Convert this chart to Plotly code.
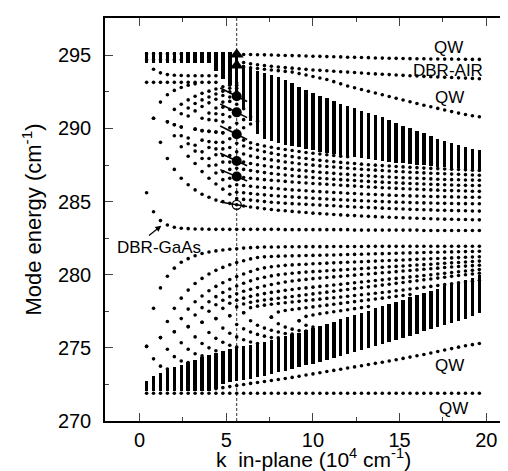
import plotly.graph_objects as go

# k in-plane grid (10^4 cm^-1): one column of computed modes every 0.4
k_cols = [0.4, 0.8, 1.2, 1.6, 2.0, 2.4, 2.8, 3.2, 3.6, 4.0,
          4.4, 4.8, 5.2, 5.6, 6.0, 6.4, 6.8, 7.2, 7.6, 8.0,
          8.4, 8.8, 9.2, 9.6, 10.0, 10.4, 10.8, 11.2, 11.6, 12.0,
          12.4, 12.8, 13.2, 13.6, 14.0, 14.4, 14.8, 15.2, 15.6, 16.0,
          16.4, 16.8, 17.2, 17.6, 18.0, 18.4, 18.8, 19.2, 19.6]

# --- single lines (mode energy, cm^-1) ---
qw_top = [295.1, 295.1, 295.1, 295.1, 295.1, 295.1, 295.1, 295.1, 295.1, 295.1,
          295.1, 295.1, 295.1, 295.06, 295.05, 295.05, 295.04, 295.03, 295.02, 295.0,
          294.99, 294.98, 294.97, 294.95, 294.94, 294.93, 294.91, 294.9, 294.89, 294.87,
          294.86, 294.85, 294.84, 294.82, 294.81, 294.8, 294.79, 294.78, 294.77, 294.76,
          294.76, 294.75, 294.75, 294.74, 294.74, 294.73, 294.73, 294.72, 294.72]
dbr_air = [294.7, 294.7, 294.7, 294.7, 294.7, 294.7, 294.7, 294.7, 294.7, 294.7,
           294.68, 294.65, 294.6, 294.55, 294.5, 294.42, 294.35, 294.3, 294.25, 294.2,
           294.16, 294.12, 294.08, 294.04, 294.0, 293.97, 293.94, 293.91, 293.88, 293.85,
           293.82, 293.79, 293.76, 293.73, 293.7, 293.68, 293.65, 293.63, 293.6, 293.58,
           293.56, 293.54, 293.52, 293.5, 293.48, 293.46, 293.44, 293.42, 293.4]
qw_upper_k0 = 6.0
qw_upper = [294.2, 294.15, 294.1, 294.05, 294.0, 293.95, 293.9, 293.85, 293.75, 293.65,
            293.55, 293.45, 293.35, 293.2, 293.05, 292.9, 292.78, 292.66, 292.54, 292.42,
            292.3, 292.18, 292.06, 291.94, 291.82, 291.7, 291.59, 291.48, 291.37, 291.26,
            291.15, 291.05, 290.95, 290.87, 290.8]
row_293 = [293.15, 293.15, 293.15, 293.15, 293.15, 293.15, 293.15, 293.15, 293.15, 293.15, 293.15]
row_294_k0 = 0.8
row_294 = [294.05, 293.8, 293.68, 293.64, 293.62, 293.6, 293.6, 293.6, 293.6, 293.6]
dbr_gaas = [285.6, 284.3, 283.7, 283.4, 283.25, 283.18, 283.15, 283.13, 283.12, 283.11,
            283.1, 283.1, 283.1, 283.1, 283.1, 283.1, 283.1, 283.1, 283.1, 283.1,
            283.08, 283.08, 283.08, 283.08, 283.08, 283.08, 283.08, 283.08, 283.08, 283.08,
            283.05, 283.05, 283.05, 283.05, 283.05, 283.05, 283.05, 283.05, 283.05, 283.05,
            283.02, 283.02, 283.02, 283.02, 283.02, 283.02, 283.02, 283.02, 283.02]
qw_bottom = [271.9, 271.9, 271.9, 271.9, 271.9, 271.9, 271.9, 271.9, 271.9, 271.9,
             271.9, 271.9, 271.9, 271.9, 271.9, 271.9, 271.9, 271.9, 271.9, 271.9,
             271.9, 271.9, 271.9, 271.9, 271.9, 271.9, 271.9, 271.9, 271.9, 271.9,
             271.9, 271.9, 271.9, 271.9, 271.9, 271.9, 271.9, 271.9, 271.9, 271.9,
             271.9, 271.9, 271.9, 271.9, 271.9, 271.9, 271.9, 271.9, 271.9]
qw_lower_k0 = 4.4
qw_lower = [272.2, 272.28, 272.35, 272.42, 272.5, 272.57, 272.63, 272.7, 272.77, 272.84,
            272.91, 272.98, 273.06, 273.14, 273.22, 273.3, 273.38, 273.46, 273.54, 273.62,
            273.7, 273.78, 273.86, 273.94, 274.02, 274.1, 274.19, 274.28, 274.37, 274.46,
            274.55, 274.65, 274.75, 274.85, 274.95, 275.05, 275.14, 275.22, 275.3]

# --- dense parts of the two bands (edges of the merged dot columns) ---
upper_top = [295.2, 295.2, 295.2, 295.2, 295.2, 295.2, 295.2, 295.2, 295.2, 295.2,
             295.2, 295.2, 295.2, 295.2, 294.35, 294.15, 293.95, 293.8, 293.65, 293.5,
             293.3, 293.1, 292.85, 292.65, 292.45, 292.25, 292.05, 291.9, 291.7, 291.55,
             291.4, 291.2, 291.05, 290.9, 290.75, 290.6, 290.4, 290.2, 290.05, 289.85,
             289.7, 289.5, 289.3, 289.15, 289.0, 288.85, 288.7, 288.6, 288.5]
upper_bottom = [294.45, 294.45, 294.45, 294.45, 294.45, 294.45, 294.45, 294.45, 294.45, 294.45,
                293.9, 293.4, 292.95, 292.55, 291.3, 290.5, 289.6, 289.3, 289.15, 289.0,
                288.9, 288.8, 288.7, 288.6, 288.5, 288.42, 288.35, 288.28, 288.2, 288.12,
                288.05, 287.98, 287.91, 287.85, 287.79, 287.73, 287.67, 287.62, 287.57, 287.52,
                287.47, 287.43, 287.39, 287.35, 287.31, 287.27, 287.23, 287.2, 287.17]
lower_top = [272.75, 273.05, 273.3, 273.5, 273.7, 273.85, 274.0, 274.2, 274.4, 274.5,
             274.65, 274.8, 274.9, 275.0, 275.1, 275.2, 275.3, 275.42, 275.55, 275.68,
             275.8, 275.92, 276.05, 276.2, 276.35, 276.5, 276.65, 276.8, 276.95, 277.1,
             277.25, 277.4, 277.55, 277.7, 277.85, 278.0, 278.15, 278.3, 278.45, 278.6,
             278.75, 278.9, 279.05, 279.2, 279.35, 279.5, 279.65, 279.8, 279.95]
lower_bottom = [272.05, 272.05, 272.05, 272.05, 272.05, 272.05, 272.05, 272.05, 272.05, 272.05,
                272.2, 272.5, 272.65, 272.75, 272.82, 272.9, 273.0, 273.1, 273.2, 273.32,
                273.44, 273.56, 273.68, 273.8, 273.93, 274.06, 274.19, 274.32, 274.45, 274.58,
                274.72, 274.86, 275.0, 275.14, 275.28, 275.42, 275.56, 275.7, 275.84, 275.98,
                276.12, 276.26, 276.4, 276.55, 276.7, 276.85, 277.0, 277.2, 277.4]

# --- upper band arcs: vertex k, then lower and upper arms from the vertex on ---
ua_vertex_k = [0.8, 1.6, 2.0, 2.4, 3.2, 3.6, 4.0, 4.4, 4.8, 5.6]
ua1_lo = [290.7, 289.05, 287.95, 287.2, 286.6, 286.15, 285.8, 285.5, 285.3, 285.1,
          285.0, 284.88, 284.78, 284.7, 284.63, 284.57, 284.51, 284.46, 284.41, 284.37,
          284.33, 284.29, 284.25, 284.21, 284.18, 284.15, 284.12, 284.09, 284.06, 284.04,
          284.01, 283.99, 283.97, 283.95, 283.93, 283.91, 283.89, 283.87, 283.86, 283.84,
          283.83, 283.81, 283.8, 283.79, 283.78, 283.77, 283.76, 283.75]
ua1_hi = [290.7, 291.8, 292.3, 292.6, 292.8, 292.95, 293.05]
ua2_lo = [290.45, 289.5, 288.75, 288.1, 287.6, 287.05, 286.6, 286.2, 285.85, 285.5,
          285.2, 285.15, 285.1, 285.05, 285.0, 284.95, 284.92, 284.89, 284.86, 284.83,
          284.81, 284.78, 284.76, 284.73, 284.71, 284.68, 284.66, 284.63, 284.61, 284.59,
          284.57, 284.55, 284.53, 284.51, 284.49, 284.47, 284.46, 284.44, 284.43, 284.41,
          284.4, 284.39, 284.38, 284.37, 284.36, 284.35]
ua2_hi = [290.45, 291.3, 291.65, 291.95, 292.2, 292.4, 292.55, 292.7, 292.85, 292.95, 293.1]
ua3_lo = [290.25, 289.5, 288.95, 288.45, 287.95, 287.45, 286.95, 286.5, 286.05, 285.64,
          285.6, 285.55, 285.5, 285.46, 285.42, 285.38, 285.35, 285.32, 285.29, 285.26,
          285.23, 285.2, 285.18, 285.15, 285.13, 285.1, 285.08, 285.06, 285.04, 285.02,
          285.0, 284.98, 284.96, 284.95, 284.93, 284.92, 284.91, 284.9, 284.89, 284.88,
          284.87, 284.86, 284.86, 284.85, 284.85]
ua3_hi = [290.25, 291.0, 291.4, 291.7, 291.95, 292.15, 292.35, 292.55, 292.75, 292.95]
ua4_lo = [290.1, 289.35, 288.85, 288.4, 287.95, 287.5, 287.05, 286.6, 286.15,
          286.1, 286.05, 286.0, 285.96, 285.92, 285.88, 285.84, 285.8, 285.77, 285.74,
          285.71, 285.68, 285.65, 285.62, 285.6, 285.57, 285.55, 285.52, 285.5, 285.48,
          285.46, 285.44, 285.42, 285.41, 285.39, 285.38, 285.36, 285.35, 285.34, 285.33,
          285.32, 285.31, 285.3, 285.3, 285.3]
ua4_hi = [290.1, 290.85, 291.2, 291.5, 291.75, 292.0, 292.25, 292.5, 292.75]
ua5_lo = [289.95, 289.2, 288.7, 288.2, 287.7, 287.2, 286.71,
          286.65, 286.6, 286.55, 286.5, 286.46, 286.42, 286.38, 286.34, 286.3, 286.27,
          286.24, 286.21, 286.18, 286.15, 286.12, 286.09, 286.06, 286.03, 286.0, 285.98,
          285.95, 285.93, 285.9, 285.88, 285.86, 285.84, 285.82, 285.8, 285.78, 285.76,
          285.75, 285.74, 285.72, 285.71, 285.7]
ua5_hi = [289.95, 290.7, 291.05, 291.4, 291.8, 292.15, 292.5]
ua6_lo = [289.85, 289.1, 288.6, 288.15, 287.7, 287.28,
          287.2, 287.12, 287.05, 286.98, 286.92, 286.87, 286.82, 286.77, 286.72, 286.68,
          286.64, 286.6, 286.56, 286.53, 286.5, 286.47, 286.44, 286.41, 286.38, 286.35,
          286.33, 286.3, 286.28, 286.26, 286.24, 286.22, 286.2, 286.18, 286.16, 286.15,
          286.13, 286.12, 286.11, 286.1, 286.1]
ua6_hi = [289.85, 290.6, 291.0, 291.45, 291.85, 292.2]
ua7_lo = [289.8, 289.05, 288.6, 288.15, 287.78,
          287.7, 287.6, 287.52, 287.45, 287.38, 287.32, 287.26, 287.2, 287.15, 287.1,
          287.05, 287.01, 286.97, 286.93, 286.89, 286.86, 286.82, 286.79, 286.76, 286.73,
          286.7, 286.68, 286.65, 286.63, 286.61, 286.59, 286.57, 286.55, 286.53, 286.51,
          286.5, 286.49, 286.48, 286.47, 286.46]
ua7_hi = [289.8, 290.55, 290.95, 291.3, 291.65]
ua8_lo = [289.75, 289.05, 288.7, 288.4,
          288.25, 288.12, 288.02, 287.93, 287.85, 287.78, 287.71, 287.65, 287.59, 287.54,
          287.49, 287.44, 287.4, 287.36, 287.32, 287.28, 287.24, 287.21, 287.18, 287.15,
          287.12, 287.09, 287.06, 287.04, 287.01, 286.99, 286.96, 286.94, 286.92, 286.9,
          286.88, 286.86, 286.84, 286.82, 286.8]
ua8_hi = [289.75, 290.45, 290.8, 291.1, 291.35]
ua9_lo = [289.7, 289.3, 288.98,
          288.8, 288.65, 288.52, 288.41, 288.31, 288.22, 288.14, 288.07, 288.0, 287.94,
          287.88, 287.82, 287.77, 287.72, 287.68, 287.64, 287.6, 287.56, 287.52, 287.49,
          287.46, 287.43, 287.4, 287.37, 287.34, 287.32, 287.29, 287.27, 287.25, 287.23,
          287.21, 287.19, 287.17, 287.15, 287.13]
ua9_hi = [289.7, 290.05, 290.35, 290.6, 290.8]
ua10_lo = [289.6, 289.2, 289.02, 288.9, 288.8, 288.71, 288.63, 288.56, 288.49, 288.42,
           288.36, 288.3, 288.25, 288.2, 288.15, 288.1, 288.06]
ua10_hi = [289.6, 290.05, 290.3, 290.5]

# --- lower band arcs: vertex k, then upper and lower arms ---
la_vertex_k = [0.4, 1.2, 2.0, 2.8, 3.6, 4.4, 5.2, 6.0, 7.6, 9.2]
la1_up = [275.1, 277.7, 279.1, 279.9, 280.45, 280.85, 281.1, 281.3, 281.45, 281.55,
          281.63, 281.69, 281.74, 281.78, 281.82, 281.85, 281.87, 281.89, 281.9, 281.9,
          281.91, 281.91, 281.91, 281.92, 281.92, 281.92, 281.92, 281.93, 281.93, 281.93,
          281.93, 281.93, 281.94, 281.94, 281.94, 281.94, 281.94, 281.94, 281.95, 281.95,
          281.95, 281.95, 281.95, 281.95, 281.95, 281.95, 281.95, 281.95, 281.95]
la1_lo = [275.1, 274.25, 273.75, 273.55]
la2_up = [275.7, 276.8, 277.7, 278.4, 278.95, 279.4, 279.75, 280.05, 280.3, 280.5,
          280.68, 280.83, 280.96, 281.08, 281.18, 281.22, 281.25, 281.27, 281.28, 281.29,
          281.3, 281.31, 281.32, 281.33, 281.34, 281.35, 281.37, 281.38, 281.39, 281.4,
          281.42, 281.43, 281.44, 281.45, 281.47, 281.48, 281.49, 281.5, 281.52, 281.53,
          281.54, 281.55, 281.56, 281.57, 281.58, 281.59, 281.6]
la2_lo = [275.7, 274.9, 274.4, 274.1, 274.0]
la3_up = [276.1, 277.0, 277.65, 278.15, 278.55, 278.9, 279.2, 279.45, 279.67, 279.87,
          280.05, 280.22, 280.37, 280.47, 280.55, 280.6, 280.64, 280.67, 280.7, 280.72,
          280.75, 280.77, 280.79, 280.81, 280.83, 280.85, 280.87, 280.89, 280.91, 280.93,
          280.95, 280.97, 280.99, 281.01, 281.03, 281.05, 281.07, 281.09, 281.11, 281.13,
          281.15, 281.17, 281.19, 281.21, 281.23]
la3_lo = [276.1, 275.35, 274.9, 274.6, 274.45]
la4_up = [276.45, 277.25, 277.75, 278.15, 278.5, 278.78, 279.02, 279.23, 279.42, 279.58,
          279.72, 279.83, 279.92, 279.99, 280.05, 280.1, 280.14, 280.18, 280.21, 280.24,
          280.27, 280.3, 280.33, 280.36, 280.39, 280.42, 280.45, 280.48, 280.51, 280.54,
          280.57, 280.6, 280.63, 280.66, 280.69, 280.72, 280.75, 280.78, 280.81, 280.84,
          280.87, 280.9, 280.93]
la4_lo = [276.45, 275.75, 275.3, 275.0, 274.8]
la5_up = [276.75, 277.5, 277.95, 278.25, 278.5, 278.7, 278.87, 279.0, 279.12, 279.23,
          279.33, 279.42, 279.5, 279.57, 279.63, 279.68, 279.73, 279.77, 279.81, 279.85,
          279.89, 279.93, 279.97, 280.01, 280.05, 280.09, 280.13, 280.17, 280.21, 280.25,
          280.29, 280.33, 280.37, 280.41, 280.45, 280.49, 280.53, 280.56, 280.59, 280.62,
          280.65]
la5_lo = [276.75, 276.05, 275.65, 275.38, 275.18, 275.05]
la6_up = [277.0, 277.7, 278.05, 278.25, 278.4, 278.52, 278.62, 278.71, 278.79, 278.86,
          278.93, 278.99, 279.05, 279.1, 279.15, 279.2, 279.25, 279.3, 279.35, 279.4,
          279.45, 279.5, 279.55, 279.6, 279.65, 279.7, 279.75, 279.8, 279.85, 279.9,
          279.95, 280.0, 280.05, 280.1, 280.15, 280.2, 280.25, 280.3, 280.35]
la6_lo = [277.0, 276.35, 276.0, 275.75, 275.55, 275.4, 275.3]
la7_up = [277.2, 277.8, 278.0, 278.12, 278.2, 278.27, 278.33, 278.39, 278.45, 278.51,
          278.57, 278.63, 278.69, 278.75, 278.81, 278.87, 278.93, 278.99, 279.05, 279.11,
          279.17, 279.23, 279.29, 279.35, 279.41, 279.47, 279.53, 279.59, 279.65, 279.71,
          279.77, 279.83, 279.89, 279.95, 280.0, 280.05, 280.1]
la7_lo = [277.2, 276.6, 276.3, 276.08, 275.92, 275.8, 275.7, 275.68]
la8_up = [277.4, 277.75, 277.85, 277.92, 277.98, 278.03, 278.08, 278.13, 278.18, 278.23,
          278.28, 278.33, 278.38, 278.43, 278.48, 278.53, 278.58, 278.63, 278.68, 278.73,
          278.78, 278.84, 278.9, 278.96, 279.02, 279.08, 279.14, 279.2, 279.26, 279.32,
          279.38, 279.44, 279.5, 279.56, 279.62]
la8_lo = [277.4, 276.85, 276.55, 276.35, 276.2, 276.08, 275.98, 275.95]
la9_up = [277.1, 277.45, 277.55, 277.62, 277.68, 277.74, 277.8, 277.86, 277.92, 277.98,
          278.04, 278.1, 278.16, 278.22, 278.28, 278.34, 278.4, 278.46, 278.52, 278.58, 278.64]
la9_lo = [277.1, 276.65, 276.42, 276.28, 276.18, 276.15]
la10_up = [276.85, 277.15, 277.25, 277.33, 277.4, 277.47, 277.54, 277.61, 277.68, 277.75, 277.82]
la10_lo = [276.85, 276.55, 276.42]

# --- measured modes marked at k = 5.6 ---
marker_k = 5.6
triangle_y = [295.05, 294.3]
filled_y = [292.2, 291.1, 289.6, 287.78, 286.71]
filled_slope = [-0.6, -0.6, -0.6, -0.55, -0.5]
open_y = [284.78]
open_slope = [-0.2]
seg_k = [4.65, 6.2]


def start(k0):
    return round(k0 / 0.4) - 1


xs, ys = [], []


def add(k0, vals):
    i = start(k0)
    for k, v in zip(k_cols[i:], vals):
        xs.append(k)
        ys.append(v)


for line in (qw_top, dbr_air, row_293, dbr_gaas, qw_bottom):
    add(0.4, line)
add(qw_upper_k0, qw_upper)
add(row_294_k0, row_294)
add(qw_lower_k0, qw_lower)

ua_arms = [(ua1_lo, ua1_hi), (ua2_lo, ua2_hi), (ua3_lo, ua3_hi), (ua4_lo, ua4_hi),
           (ua5_lo, ua5_hi), (ua6_lo, ua6_hi), (ua7_lo, ua7_hi), (ua8_lo, ua8_hi),
           (ua9_lo, ua9_hi), (ua10_lo, ua10_hi)]
for k0, (lo, hi) in zip(ua_vertex_k, ua_arms):
    add(k0, lo)
    add(k0, hi)

la_arms = [(la1_up, la1_lo), (la2_up, la2_lo), (la3_up, la3_lo), (la4_up, la4_lo),
           (la5_up, la5_lo), (la6_up, la6_lo), (la7_up, la7_lo), (la8_up, la8_lo),
           (la9_up, la9_lo), (la10_up, la10_lo)]
for k0, (up, lo) in zip(la_vertex_k, la_arms):
    add(k0, up)
    add(k0, lo)

fig = go.Figure()

# merged (dense) columns
fig.add_trace(go.Bar(x=k_cols, y=[t - b for t, b in zip(upper_top, upper_bottom)],
                     base=upper_bottom, width=0.2,
                     marker=dict(color='black', line=dict(width=0)), hoverinfo='skip'))
fig.add_trace(go.Bar(x=k_cols, y=[t - b for t, b in zip(lower_top, lower_bottom)],
                     base=lower_bottom, width=0.2,
                     marker=dict(color='black', line=dict(width=0)), hoverinfo='skip'))

fig.add_trace(go.Scatter(x=xs, y=ys, mode='markers',
                         marker=dict(size=3.6, color='black'), hoverinfo='skip'))

# short tangent lines through the marked modes
tx, ty = [], []
for y0, s in zip(filled_y + open_y, filled_slope + open_slope):
    tx += [seg_k[0], seg_k[1], None]
    ty += [y0 + s * (seg_k[0] - marker_k), y0 + s * (seg_k[1] - marker_k), None]
fig.add_trace(go.Scatter(x=tx, y=ty, mode='lines', line=dict(color='black', width=1.6),
                         hoverinfo='skip'))

fig.add_trace(go.Scatter(x=[marker_k] * len(triangle_y), y=triangle_y, mode='markers',
                         marker=dict(symbol='triangle-up', size=12, color='black')))
fig.add_trace(go.Scatter(x=[marker_k] * len(filled_y), y=filled_y, mode='markers',
                         marker=dict(symbol='circle', size=10, color='black')))
fig.add_trace(go.Scatter(x=[marker_k] * len(open_y), y=open_y, mode='markers',
                         marker=dict(symbol='circle-open', size=9, color='black',
                                     line=dict(width=1.3))))

fig.add_shape(type='line', x0=marker_k, x1=marker_k, y0=0, y1=1, yref='paper',
              line=dict(color='#333333', width=1, dash='3px,2px'), layer='below')

font = 'Liberation Sans, Arial, Helvetica, sans-serif'
label_font = dict(family=font, size=17, color='black')
for x, y, t in [(17.8, 295.53, 'QW'), (17.8, 293.96, 'DBR-AIR'), (17.87, 292.12, 'QW'),
                (17.9, 273.77, 'QW'), (18.1, 270.84, 'QW')]:
    fig.add_annotation(x=x, y=y, text=t, showarrow=False, font=label_font)
fig.add_annotation(x=-1.42, y=281.89, text='DBR-GaAs', showarrow=False, xanchor='left',
                   font=label_font)
fig.add_annotation(x=1.25, y=283.35, ax=0.45, ay=282.6, axref='x', ayref='y', text='',
                   showarrow=True, arrowhead=2, arrowsize=1, arrowwidth=1.2,
                   arrowcolor='black')

# x-axis title placed under the tick labels
fig.add_annotation(x=0.51, y=-0.13, xref='paper', yref='paper', yanchor='bottom',
                   text='k\u00a0\u00a0in-plane (10<sup>4</sup> cm<sup>-1</sup>)',
                   showarrow=False, font=dict(family=font, size=21, color='black'))

axis_style = dict(ticks='inside', ticklen=8, tickwidth=1.3, showline=True, linewidth=1.5,
                  linecolor='black', mirror='ticks', showgrid=False, zeroline=False,
                  tickfont=dict(family=font, size=20, color='black'))

fig.update_xaxes(range=[-2.0, 21.6], tickmode='linear', tick0=0, dtick=5,
                 minor=dict(ticks='inside', ticklen=4, tickwidth=1.3, dtick=2.5, tick0=0),
                 ticklabelstandoff=0, **axis_style)
fig.update_yaxes(range=[270, 297.55], tickmode='linear', tick0=270, dtick=5,
                 minor=dict(ticks='inside', ticklen=4, tickwidth=1.3, dtick=2.5, tick0=270),
                 ticklabelstandoff=8,
                 title=dict(text='Mode energy (cm<sup>-1</sup>)',
                            font=dict(family=font, size=22, color='black'), standoff=10),
                 **axis_style)

fig.update_layout(width=508, height=471, margin=dict(l=97, r=0, t=10, b=58),
                  paper_bgcolor='white', plot_bgcolor='white', showlegend=False,
                  barmode='overlay', bargap=0, font=dict(family=font, color='black'))

fig.write_html('out.html', config={'displayModeBar': False})
